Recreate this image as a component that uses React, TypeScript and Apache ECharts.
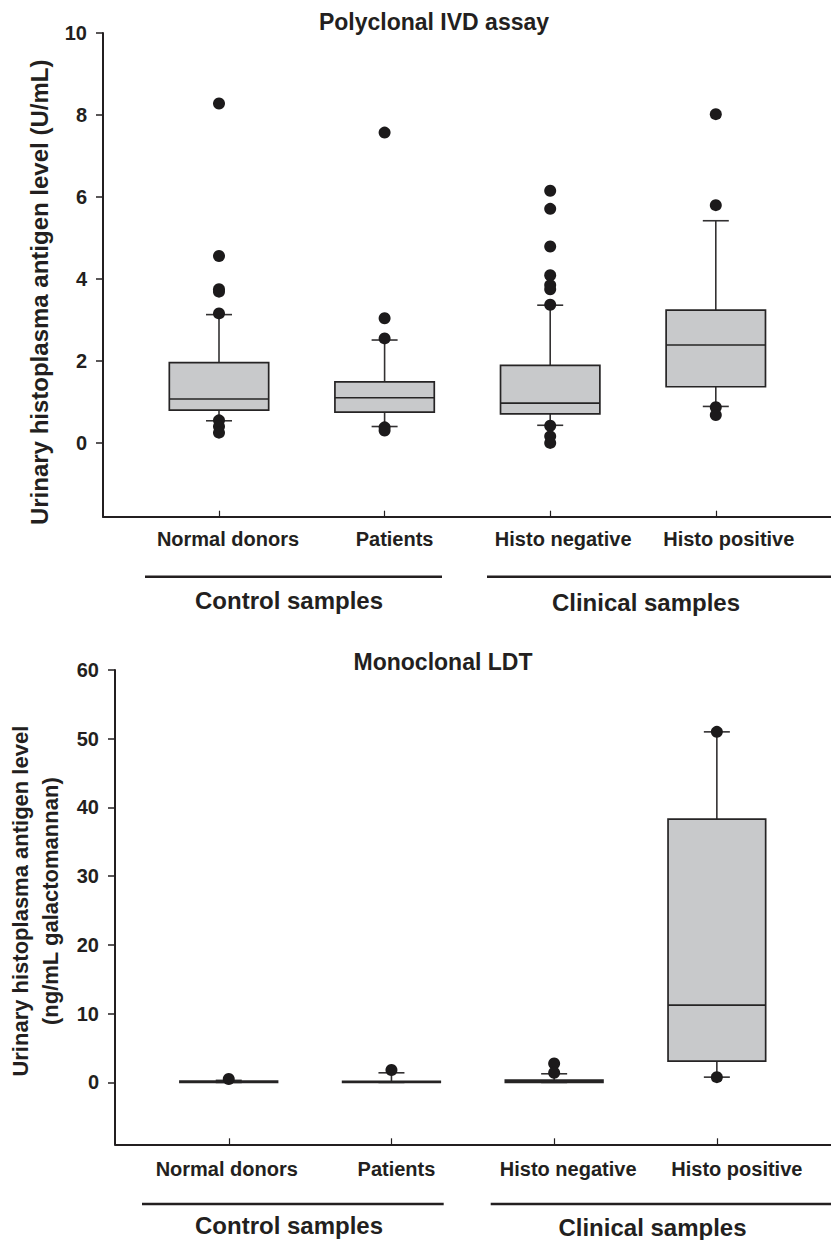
import React, { useEffect, useRef } from "react";
import * as echarts from "echarts";

// ---------- data ----------
const categories = ["Normal donors", "Patients", "Histo negative", "Histo positive"];
const groupLabels = ["Control samples", "Clinical samples"];

// Polyclonal IVD assay (U/mL)
const polyLow = [0.54, 0.4, 0.43, 0.89];
const polyQ1 = [0.8, 0.75, 0.71, 1.37];
const polyMedian = [1.07, 1.1, 0.97, 2.39];
const polyQ3 = [1.96, 1.49, 1.89, 3.24];
const polyHigh = [3.13, 2.51, 3.36, 5.42];
const polyOutliers = [
  [8.28, 4.56, 3.75, 3.69, 3.16, 0.55, 0.4, 0.25],
  [7.57, 3.04, 2.55, 0.38, 0.3],
  [6.15, 5.71, 4.79, 4.09, 3.85, 3.75, 3.37, 0.42, 0.16, 0.0],
  [8.02, 5.8, 0.87, 0.68],
];
const polyTicks = [0, 2, 4, 6, 8, 10];

// Monoclonal LDT (ng/mL galactomannan)
const monoLow = [0, 0, 0, 0.77];
const monoQ1 = [0, 0, 0, 3.1];
const monoMedian = [0.05, 0.05, 0.1, 11.25];
const monoQ3 = [0.2, 0.15, 0.35, 38.3];
const monoHigh = [0.3, 1.4, 1.26, 51.0];
const monoOutliers = [[0.5], [1.8], [2.75, 1.4], [51.0, 0.77]];
const monoTicks = [0, 10, 20, 30, 40, 50, 60];

// ---------- styles ----------
const FONT = '"Liberation Sans", Arial, Helvetica, sans-serif';
const INK = "#231f20";
const BOX_FILL = "#c8c9cb";
const topLabelPad = [18, 20, 26, 26];
const botLabelPad = [-4, 10, 28, 40];

function boxRows(lo: number[], q1: number[], md: number[], q3: number[], hi: number[]) {
  return categories.map((_, i) => [i, lo[i], q1[i], md[i], q3[i], hi[i]]);
}
function outlierRows(out: number[][]) {
  const rows: number[][] = [];
  out.forEach((vals, i) => vals.forEach((v) => rows.push([i, v])));
  return rows;
}

const renderBox = (_params: any, api: any) => {
  const idx = api.value(0);
  const lo = api.coord([idx, api.value(1)]);
  const q1 = api.coord([idx, api.value(2)]);
  const md = api.coord([idx, api.value(3)]);
  const q3 = api.coord([idx, api.value(4)]);
  const hi = api.coord([idx, api.value(5)]);
  const band = api.size([1, 0])[0];
  const w = band * 0.6;
  const cx = lo[0];
  const cap = 13;
  const wl = { stroke: "#333132", lineWidth: 1.6 };
  return {
    type: "group",
    children: [
      { type: "line", shape: { x1: cx, y1: q3[1], x2: cx, y2: hi[1] }, style: wl },
      { type: "line", shape: { x1: cx, y1: q1[1], x2: cx, y2: lo[1] }, style: wl },
      { type: "line", shape: { x1: cx - cap, y1: hi[1], x2: cx + cap, y2: hi[1] }, style: wl },
      { type: "line", shape: { x1: cx - cap, y1: lo[1], x2: cx + cap, y2: lo[1] }, style: wl },
      {
        type: "rect",
        shape: { x: cx - w / 2, y: q3[1], width: w, height: Math.max(q1[1] - q3[1], 0.5) },
        style: { fill: BOX_FILL, stroke: "#262425", lineWidth: 1.7 },
      },
      {
        type: "line",
        shape: { x1: cx - w / 2, y1: md[1], x2: cx + w / 2, y2: md[1] },
        style: { stroke: "#262425", lineWidth: 1.6 },
      },
    ],
  };
};

const tickLabelStyle = { fontSize: 20, fontWeight: "bold", fontFamily: FONT, color: INK };

function frameAxes(gridIndex: number, min: number, max: number, ticks: number[], name: string, nameGap: number, nameStyle: any) {
  const x = {
    type: "value",
    gridIndex,
    min: 0,
    max: 1,
    axisLine: { show: true, onZero: false, lineStyle: { color: INK, width: 2 } },
    axisTick: { show: false },
    axisLabel: { show: false },
    splitLine: { show: false },
  };
  const y = {
    type: "value",
    gridIndex,
    min,
    max,
    name,
    nameLocation: "middle",
    nameGap,
    nameTextStyle: nameStyle,
    axisLine: { show: true, onZero: false, lineStyle: { color: INK, width: 2 } },
    axisTick: { show: true, length: 7, customValues: ticks, lineStyle: { color: INK, width: 1.5 } },
    axisLabel: { ...tickLabelStyle, margin: 16, customValues: ticks },
    splitLine: { show: false },
  };
  return { x, y };
}

function dataAxes(gridIndex: number, min: number, max: number, pads: number[], margin: number) {
  const x = {
    type: "category",
    gridIndex,
    boundaryGap: true,
    data: categories.map((c, i) => ({
      value: c,
      textStyle: { padding: pads[i] >= 0 ? [0, 0, 0, pads[i]] : [0, -pads[i], 0, 0] },
    })),
    axisLine: { show: false, onZero: false },
    axisTick: { show: true, alignWithLabel: true, inside: true, length: 6, lineStyle: { color: INK, width: 1.2 } },
    axisLabel: { ...tickLabelStyle, margin, interval: 0 },
    splitLine: { show: false },
  };
  const y = { type: "value", gridIndex, min, max, show: false, axisLine: { onZero: false } };
  return { x, y };
}

export default function App() {
  const ref = useRef<HTMLDivElement>(null);

  useEffect(() => {
    if (!ref.current) return;
    const chart = echarts.init(ref.current, undefined, { renderer: "svg" });

    const f0 = frameAxes(0, -1.8, 10, polyTicks, "Urinary histoplasma antigen level (U/mL)", 52, {
      fontSize: 24,
      fontWeight: "bold",
      fontFamily: FONT,
      color: INK,
      padding: [0, 35, 0, 0],
    });
    const d1 = dataAxes(1, -1.8, 10, topLabelPad, 12);
    const f2 = frameAxes(2, -9, 60, monoTicks, "Urinary histoplasma antigen level\n(ng/mL galactomannan)", 47, {
      fontSize: 22,
      fontWeight: "bold",
      fontFamily: FONT,
      color: INK,
      lineHeight: 30,
      padding: [0, 0, 0, 12],
    });
    const d3 = dataAxes(3, -9, 60, botLabelPad, 15);

    const titleStyle = { fontSize: 23, fontWeight: "bold", fontFamily: FONT, color: INK, lineHeight: 23 };
    const groupStyle = { fontSize: 24, fontWeight: "bold", fontFamily: FONT, fill: INK, align: "center", verticalAlign: "middle" };
    const lineStyle = { stroke: INK, lineWidth: 2.5 };
    const dotStyle = { color: "#1c1a1b", opacity: 1 };

    const option: any = {
      animation: false,
      backgroundColor: "#ffffff",
      title: [
        { text: "Polyclonal IVD assay", left: 434, top: 10, textAlign: "center", padding: 0, textStyle: titleStyle },
        { text: "Monoclonal LDT", left: 443, top: 650, textAlign: "center", padding: 0, textStyle: titleStyle },
      ],
      grid: [
        { left: 103, top: 33, right: 0, height: 483.7, outerBoundsMode: "none" },
        { left: 136.2, top: 33, width: 662.4, height: 483.7, outerBoundsMode: "none" },
        { left: 115, top: 670, right: 0, height: 474.3, outerBoundsMode: "none" },
        { left: 147.4, top: 670, width: 650.8, height: 474.3, outerBoundsMode: "none" },
      ],
      xAxis: [f0.x, d1.x, f2.x, d3.x],
      yAxis: [f0.y, d1.y, f2.y, d3.y],
      series: [
        {
          type: "custom",
          name: "Polyclonal box",
          xAxisIndex: 1,
          yAxisIndex: 1,
          renderItem: renderBox,
          encode: { x: 0, y: [1, 2, 3, 4, 5] },
          data: boxRows(polyLow, polyQ1, polyMedian, polyQ3, polyHigh),
          z: 2,
        },
        {
          type: "scatter",
          name: "Polyclonal outliers",
          xAxisIndex: 1,
          yAxisIndex: 1,
          symbol: "circle",
          symbolSize: 12,
          itemStyle: dotStyle,
          data: outlierRows(polyOutliers),
          z: 3,
        },
        {
          type: "custom",
          name: "Monoclonal box",
          xAxisIndex: 3,
          yAxisIndex: 3,
          renderItem: renderBox,
          encode: { x: 0, y: [1, 2, 3, 4, 5] },
          data: boxRows(monoLow, monoQ1, monoMedian, monoQ3, monoHigh),
          z: 2,
        },
        {
          type: "scatter",
          name: "Monoclonal outliers",
          xAxisIndex: 3,
          yAxisIndex: 3,
          symbol: "circle",
          symbolSize: 12,
          itemStyle: dotStyle,
          data: outlierRows(monoOutliers),
          z: 3,
        },
      ],
      graphic: [
        { type: "line", shape: { x1: 145, y1: 576.7, x2: 442, y2: 576.7 }, style: lineStyle },
        { type: "line", shape: { x1: 487, y1: 576.7, x2: 831, y2: 576.7 }, style: lineStyle },
        { type: "text", x: 289, y: 600.5, style: { ...groupStyle, text: groupLabels[0] } },
        { type: "text", x: 646, y: 602.5, style: { ...groupStyle, text: groupLabels[1] } },
        { type: "line", shape: { x1: 142, y1: 1204, x2: 443.7, y2: 1204 }, style: lineStyle },
        { type: "line", shape: { x1: 490.7, y1: 1204, x2: 831, y2: 1204 }, style: lineStyle },
        { type: "text", x: 289, y: 1225.5, style: { ...groupStyle, text: groupLabels[0] } },
        { type: "text", x: 652.5, y: 1227.5, style: { ...groupStyle, text: groupLabels[1] } },
      ],
    };

    chart.setOption(option);
    return () => chart.dispose();
  }, []);

  return (
    <div
      ref={ref}
      style={{ position: "absolute", left: 0, top: 0, width: 831, height: 1240, background: "#fff" }}
    />
  );
}
